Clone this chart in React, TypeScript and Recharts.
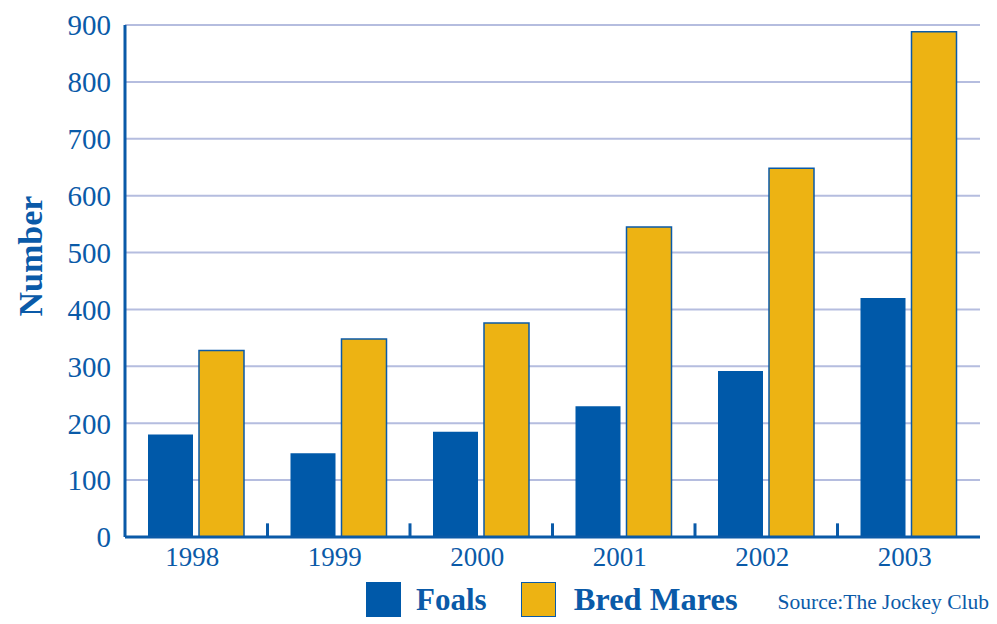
import React from 'react';
import { BarChart, Bar, XAxis, YAxis, CartesianGrid, ReferenceLine } from 'recharts';

const years = ['1998', '1999', '2000', '2001', '2002', '2003'];
const foals = [180, 147, 185, 230, 292, 420];
const bredMares = [328, 348, 376, 545, 648, 888];
const yTicks = [0, 100, 200, 300, 400, 500, 600, 700, 800, 900];
const boundaryYears = ['1999', '2000', '2001', '2002', '2003'];

const data = years.map((y, i) => ({ year: y, foals: foals[i], mares: bredMares[i] }));

const BLUE = '#0A5AA8';
const BAR_BLUE = '#0059A9';
const YELLOW = '#EDB313';
const GRID = '#B5BDDF';
const FONT = '"Liberation Serif", "DejaVu Serif", serif';

const YLabel = (props: any) => {
  const vb = props.viewBox || { x: 0, y: 0, width: 0, height: 0 };
  const cx = vb.x + 30;
  const cy = vb.y + vb.height / 2 - 25;
  return (
    <text
      x={cx}
      y={cy}
      transform={`rotate(-90, ${cx}, ${cy})`}
      textAnchor="middle"
      dominantBaseline="central"
      fill={BLUE}
      fontSize={34}
      fontWeight={700}
      fontFamily={FONT}
    >
      Number
    </text>
  );
};

export default function App() {
  return (
    <div style={{ position: 'absolute', left: 0, top: 0, width: 997, height: 624, background: '#fff', fontFamily: FONT }}>
      <BarChart
        width={997}
        height={624}
        data={data}
        margin={{ top: 25, right: 17, left: 0, bottom: 0 }}
        barSize={45}
        barGap={6}
      >
        <CartesianGrid horizontal vertical={false} stroke={GRID} strokeWidth={2} />
        {boundaryYears.map((y) => (
          <ReferenceLine
            key={y}
            segment={[{ x: y, y: -1 }, { x: y, y: 24 }]}
            position="start"
            ifOverflow="visible"
            stroke={BLUE}
            strokeWidth={3}
          />
        ))}
        <XAxis
          dataKey="year"
          height={87}
          axisLine={{ stroke: BLUE, strokeWidth: 3 }}
          tickLine={false}
          tickSize={6}
          tickMargin={4}
          tick={{ fill: BLUE, fontSize: 27, fontFamily: FONT, dx: -4 }}
          interval={0}
        />
        <YAxis
          width={125}
          domain={[0, 900]}
          ticks={yTicks}
          interval={0}
          axisLine={{ stroke: BLUE, strokeWidth: 3 }}
          tickLine={false}
          tickSize={6}
          tickMargin={8}
          tick={{ fill: BLUE, fontSize: 29, fontFamily: FONT }}
          label={<YLabel />}
        />
        <Bar dataKey="foals" fill={BAR_BLUE} isAnimationActive={false} />
        <Bar dataKey="mares" fill={YELLOW} stroke={BLUE} strokeWidth={1.5} isAnimationActive={false} />
      </BarChart>
      <div style={{ position: 'absolute', left: 366, top: 582, height: 35, display: 'flex', alignItems: 'center', color: BLUE, whiteSpace: 'nowrap' }}>
        <div style={{ width: 35, height: 35, background: BAR_BLUE }} />
        <span style={{ marginLeft: 15, fontSize: 31, fontWeight: 700, lineHeight: '35px' }}>Foals</span>
        <div style={{ width: 33, height: 33, background: YELLOW, border: `1px solid ${BLUE}`, marginLeft: 34 }} />
        <span style={{ marginLeft: 18, fontSize: 32.5, fontWeight: 700, lineHeight: '35px' }}>Bred Mares</span>
        <span style={{ marginLeft: 40, fontSize: 21.5, lineHeight: '35px', paddingTop: 6 }}>Source:The Jockey Club</span>
      </div>
    </div>
  );
}
